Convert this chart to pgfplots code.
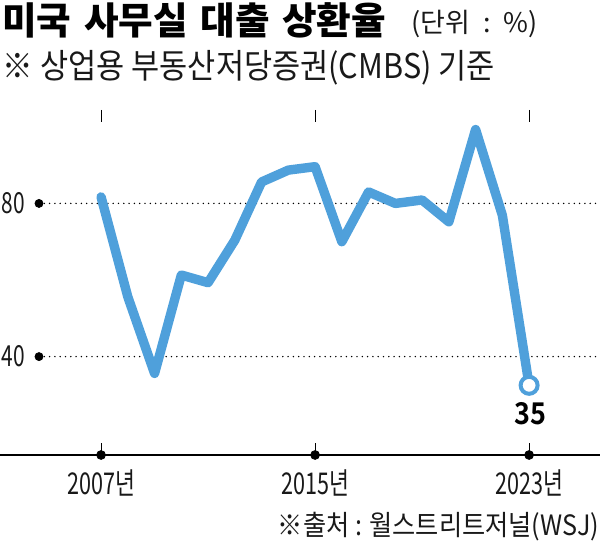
\documentclass[border=0pt]{standalone}
\usepackage{pgfplots}
\pgfplotsset{compat=1.18}
\usepackage{fontspec}
\newfontfamily\kr{Noto Sans CJK KR}
\newfontfamily\krb{Noto Sans CJK KR Black}
\newfontfamily\krbc[FakeStretch=0.9]{Noto Sans CJK KR Bold}
\newfontfamily\krc[FakeStretch=0.9]{Noto Sans CJK KR}
\newfontfamily\krt[FakeStretch=0.72]{Noto Sans CJK KR}
\definecolor{lineblue}{RGB}{79,160,219}
\definecolor{txt}{RGB}{25,25,25}
\begin{document}
\begin{tikzpicture}
\useasboundingbox (0,0) rectangle (300pt,272.5pt);
% title block
\node[anchor=base west, inner sep=0pt] at (1.0pt,255pt) {\krb\fontsize{18.8}{22}\selectfont 미국\hspace{2pt} 사무실\hspace{2pt} 대출\hspace{2pt} 상환율};
\node[anchor=base west, inner sep=0pt, text=txt] at (205.5pt,256pt) {\kr\fontsize{13.5}{16}\selectfont (단위\hspace{6.5pt}:\hspace{6.5pt}\%)};
\node[anchor=base west, inner sep=0pt, text=txt] at (1.2pt,233pt) {\krc\fontsize{17}{20}\selectfont ※ 상업용 부동산저당증권(CMBS) 기준};
\node[anchor=base east, inner sep=0pt, text=txt] at (299.7pt,4.5pt) {\krc\fontsize{14}{16}\selectfont ※출처 : 월스트리트저널(WSJ)};
% x axis line across full width
\draw[line width=1pt, black] (0pt,45pt) -- (300pt,45pt);
\begin{axis}[
  at={(19.5pt,45pt)}, anchor=south west,
  scale only axis, width=280.5pt, height=172.5pt,
  xmin=2004.68, xmax=2025.65, ymin=14.3, ymax=104.4,
  clip=false,
  axis line style={draw=none},
  xtick={2007,2015,2023},
  xticklabels={2007년,2015년,2023년},
  ytick={40,80},
  yticklabels={40,80},
  ymajorgrids,
  grid style={black, line width=0.8pt, dash pattern=on 0pt off 2.65pt, line cap=round},
  tick align=inside,
  major tick length=6pt,
  xtick style={draw=black, line width=0.4pt},
  ytick style={draw=none},
  xticklabel style={anchor=base, inner sep=0pt, yshift=-20pt, font=\krt\fontsize{15}{18}\selectfont, text=txt},
  yticklabel style={anchor=base east, inner sep=0pt, xshift=-7pt, yshift=-5pt, font=\krt\fontsize{14.5}{17}\selectfont, text=txt},
]
\addplot[only marks, mark=*, mark size=2pt, black] coordinates {(2004.68,40) (2004.68,80)};
\addplot[only marks, mark=*, mark size=2.2pt, black] coordinates {(2007,14.3) (2015,14.3) (2023,14.3)};
\addplot[color=lineblue, line width=4.7pt, line join=round, line cap=round] coordinates {
(2007,81.7) (2008,55.6) (2009,35.6) (2010,61.3) (2011,59.3) (2012,70.4)
(2013,85.6) (2014,88.7) (2015,89.6) (2016,70.0) (2017,83.0) (2018,80.0)
(2019,80.9) (2020,75.2) (2021,99.3) (2022,76.9) (2023,32.5)};
\addplot[only marks, mark=*, mark size=4.25pt, mark options={fill=white, draw=lineblue, line width=2pt}] coordinates {(2023,32.5)};
\node[anchor=base, inner sep=0pt, text=black] at (axis cs:2023.05,14.3) [yshift=15pt] {\krbc\fontsize{15}{18}\selectfont 35};
\end{axis}
\end{tikzpicture}
\end{document}
